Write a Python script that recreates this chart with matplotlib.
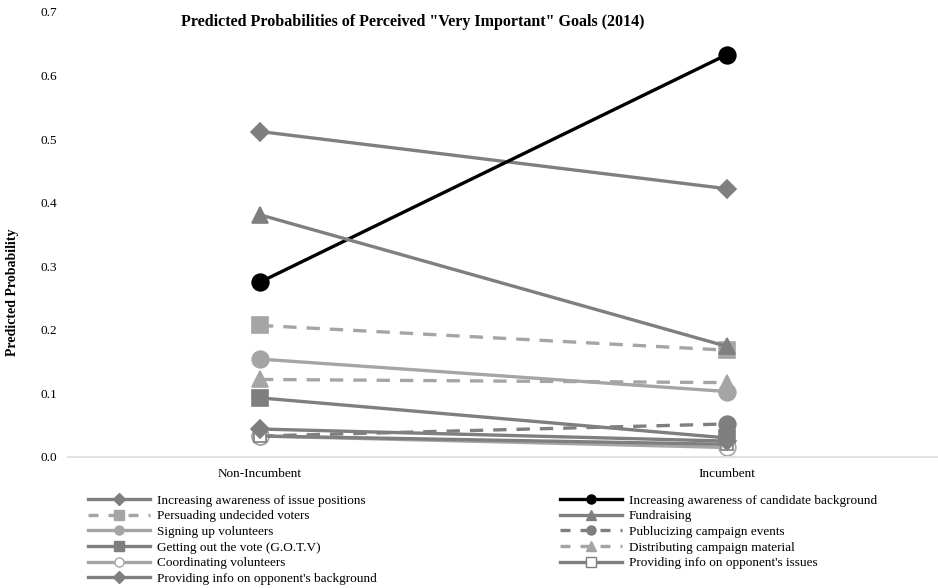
import matplotlib.pyplot as plt
from matplotlib.lines import Line2D

plt.rcParams['font.family'] = ['Liberation Serif', 'DejaVu Serif']

## Datos
categorias = ['Non-Incumbent', 'Incumbent']

issue_positions = [0.512, 0.422]
persuading = [0.207, 0.168]
signing_up = [0.154, 0.103]
gotv = [0.093, 0.030]
coordinating = [0.033, 0.015]
opp_background = [0.044, 0.025]
candidate_background = [0.275, 0.633]
fundraising = [0.381, 0.174]
publicizing = [0.033, 0.052]
distributing = [0.122, 0.117]
opp_issues = [0.033, 0.020]

gris = '#7f7f7f'
gris_claro = '#a5a5a5'

## (etiqueta, valores, color, marcador, estilo, relleno, tamaño)
series_izq = [
    ('Increasing awareness of issue positions', issue_positions, gris, 'D', '-', gris, 9),
    ('Persuading undecided voters', persuading, gris_claro, 's', '--', gris_claro, 11),
    ('Signing up volunteers', signing_up, gris_claro, 'o', '-', gris_claro, 12),
    ('Getting out the vote (G.O.T.V)', gotv, gris, 's', '-', gris, 11),
    ('Coordinating volunteers', coordinating, gris_claro, 'o', '-', 'white', 12),
    ("Providing info on opponent's background", opp_background, gris, 'D', '-', gris, 9),
]
series_der = [
    ('Increasing awareness of candidate background', candidate_background, 'black', 'o', '-', 'black', 12),
    ('Fundraising', fundraising, gris, '^', '-', gris, 11),
    ('Publucizing campaign events', publicizing, gris, 'o', '--', gris, 12),
    ('Distributing campaign material', distributing, gris_claro, '^', '--', gris_claro, 11),
    ("Providing info on opponent's issues", opp_issues, gris, 's', '-', 'white', 9),
]

fig = plt.figure(figsize=(9.38, 5.88), dpi=100)
ax = fig.add_axes([0.0725, 0.2228, 0.9275, 0.7568])

x = list(range(len(categorias)))

## Orden de dibujo como en la hoja de cálculo (filas de la leyenda)
orden = []
for i in range(len(series_izq)):
    orden.append(series_izq[i])
    if i < len(series_der):
        orden.append(series_der[i])

for etiqueta, valores, color, marcador, estilo, relleno, ms in orden:
    ax.plot(x, valores, color=color, linestyle=estilo, linewidth=2.4,
            marker=marcador, markersize=ms, markerfacecolor=relleno,
            markeredgecolor=color, markeredgewidth=1.2,
            dashes=(4, 3) if estilo == '--' else (None, None))

def manejadores(lista):
    hs = []
    for etiqueta, valores, color, marcador, estilo, relleno, ms in lista:
        hs.append(Line2D([], [], color=color, linestyle=estilo, linewidth=2.4,
                         marker=marcador, markersize=6.5, markerfacecolor=relleno,
                         markeredgecolor=color, markeredgewidth=1.0,
                         dashes=(3, 3) if estilo == '--' else (None, None),
                         label=etiqueta))
    return hs

ax.set_xlim(-0.411, 1.452)
ax.set_ylim(0, 0.7)
ax.set_yticks([0.0, 0.1, 0.2, 0.3, 0.4, 0.5, 0.6, 0.7])
ax.set_yticklabels(['%.1f' % v for v in ax.get_yticks()])
ax.set_xticks(x)
ax.set_xticklabels(categorias)
ax.tick_params(axis='both', length=0, labelsize=9.5)
ax.tick_params(axis='y', pad=8)
ax.tick_params(axis='x', pad=8)
for lado in ['top', 'right', 'left']:
    ax.spines[lado].set_visible(False)
ax.spines['bottom'].set_color('#d9dde3')
ax.spines['bottom'].set_linewidth(1.2)

fig.text(0.4395, 0.962, 'Predicted Probabilities of Perceived "Very Important" Goals (2014)',
         ha='center', va='center', fontsize=11.5, fontweight='bold')
fig.text(0.013, 0.503, 'Predicted Probability', rotation=90, ha='center', va='center',
         fontsize=10, fontweight='bold')

kw = dict(frameon=False, fontsize=9.5, handlelength=4.7, handletextpad=0.5,
          labelspacing=0.26, borderaxespad=0, borderpad=0, loc='upper left')
fig.legend(handles=manejadores(series_izq), bbox_to_anchor=(0.094, 0.159), **kw)
fig.legend(handles=manejadores(series_der), bbox_to_anchor=(0.597, 0.159), **kw)

fig.savefig('out.png', dpi=100)
